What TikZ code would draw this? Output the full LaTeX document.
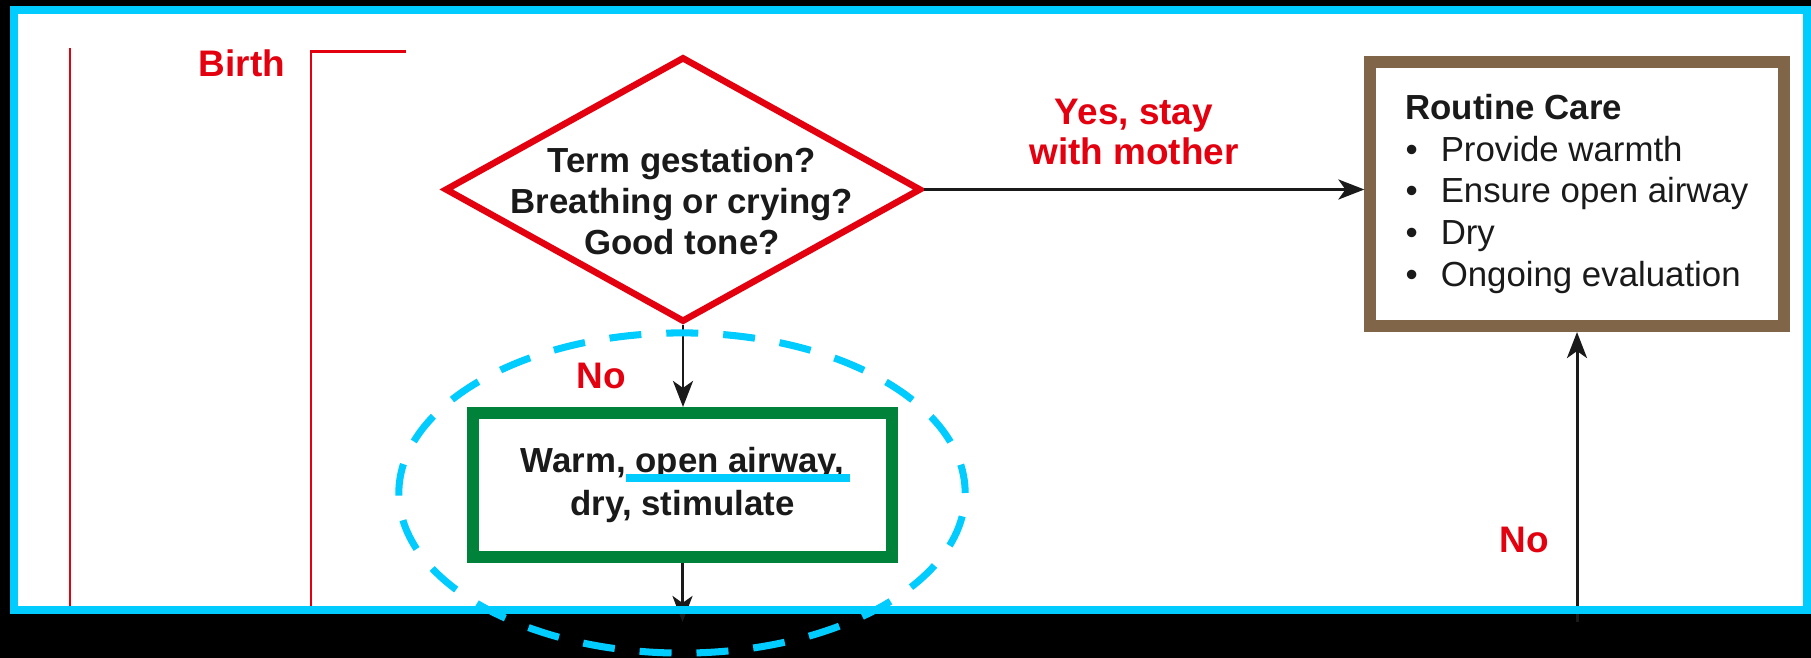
\documentclass[tikz,border=0pt]{standalone}
\usepackage{fontspec}
\setmainfont{Liberation Sans}
\usetikzlibrary{positioning,arrows.meta,shapes.geometric}
\definecolor{alarm}{HTML}{E3000F}
\definecolor{hilite}{HTML}{00CCFF}
\definecolor{routine}{HTML}{806548}
\definecolor{act}{HTML}{00823A}
\definecolor{ink}{HTML}{1A1A1A}

\begin{document}
\begin{tikzpicture}[x=0.01cm,y=-0.01cm,
  query/.style={draw=alarm,line width=1.85pt,diamond,aspect=1.8,minimum width=4.76cm,minimum height=2.65cm,inner sep=0pt},
  qtext/.style={text=ink,align=center,font=\fontsize{9.9}{11.7}\selectfont\bfseries},
  carebox/.style={draw=routine,line width=3.4pt,fill=white,minimum width=4.13cm,minimum height=2.64cm,align=left,text=ink,font=\fontsize{9.9}{11.9}\selectfont},
  actbox/.style={draw=act,line width=3.4pt,fill=white,minimum width=4.19cm,minimum height=1.44cm,align=center,text=ink,font=\fontsize{9.9}{12.2}\selectfont\bfseries},
  redlbl/.style={text=alarm,align=center,font=\fontsize{10.5}{11.4}\selectfont\bfseries},
  flow/.style={draw=ink,line width=0.85pt,-{Stealth[length=2.6mm,width=2mm,inset=0.7mm]}},
  timeline/.style={draw=alarm,line width=0.85pt}]
  \useasboundingbox (0,0) rectangle (1811,658);
  \fill[black] (0,0) rectangle (1811,658);
  \fill[white] (14,10) rectangle (1807,610);

  % time marks
  \draw[timeline] (70,48) -- (70,610);
  \draw[timeline] (406,52) -- (311,52) -- (311,610);
  \node[redlbl] (birth) at (242,63) {Birth};

  % decision and boxes
  \node[query] (gest) at (683,189.5) {};
  \node[qtext] (gestq) at (682,201) {Term gestation?\\Breathing or crying?\\Good tone?};
  \node[carebox] (care) at (1577,194) {\textbf{Routine Care}\\
    \textbullet\hspace{0.23cm}Provide warmth\\
    \textbullet\hspace{0.23cm}Ensure open airway\\
    \textbullet\hspace{0.23cm}Dry\\
    \textbullet\hspace{0.23cm}Ongoing evaluation};
  \node[actbox] (warm) at (682.5,485) {Warm, open airway,\\dry, stimulate};
  \draw[hilite,line width=2pt] ([xshift=-0.565cm,yshift=0.07cm]warm.center) -- ++(224,0);

  \node[redlbl] (yes) at (1134,132) {Yes, stay\\with mother};
  \node[redlbl] (noA) at (601,376) {No};
  \node[redlbl] (noB) at (1524,540) {No};

  % arrows
  \coordinate (down) at (682.5,622);
  \coordinate (up) at (1577,622);
  \draw[flow] (gest.east) -- (gest.east -| care.west);
  \draw[flow] (gest.south) -- (gest.south |- warm.north);
  \draw[flow] (warm.south) -- (down);
  \draw[flow] (up) -- (care.south);

  \draw[hilite,line width=0.08cm] (14,10) rectangle (1807,610);
  \draw[hilite,line width=2pt,dash pattern=on 9.1pt off 7.1pt,dash phase=0.9pt] (682,493) ellipse [x radius=2.83cm,y radius=1.6cm];
\end{tikzpicture}
\end{document}
